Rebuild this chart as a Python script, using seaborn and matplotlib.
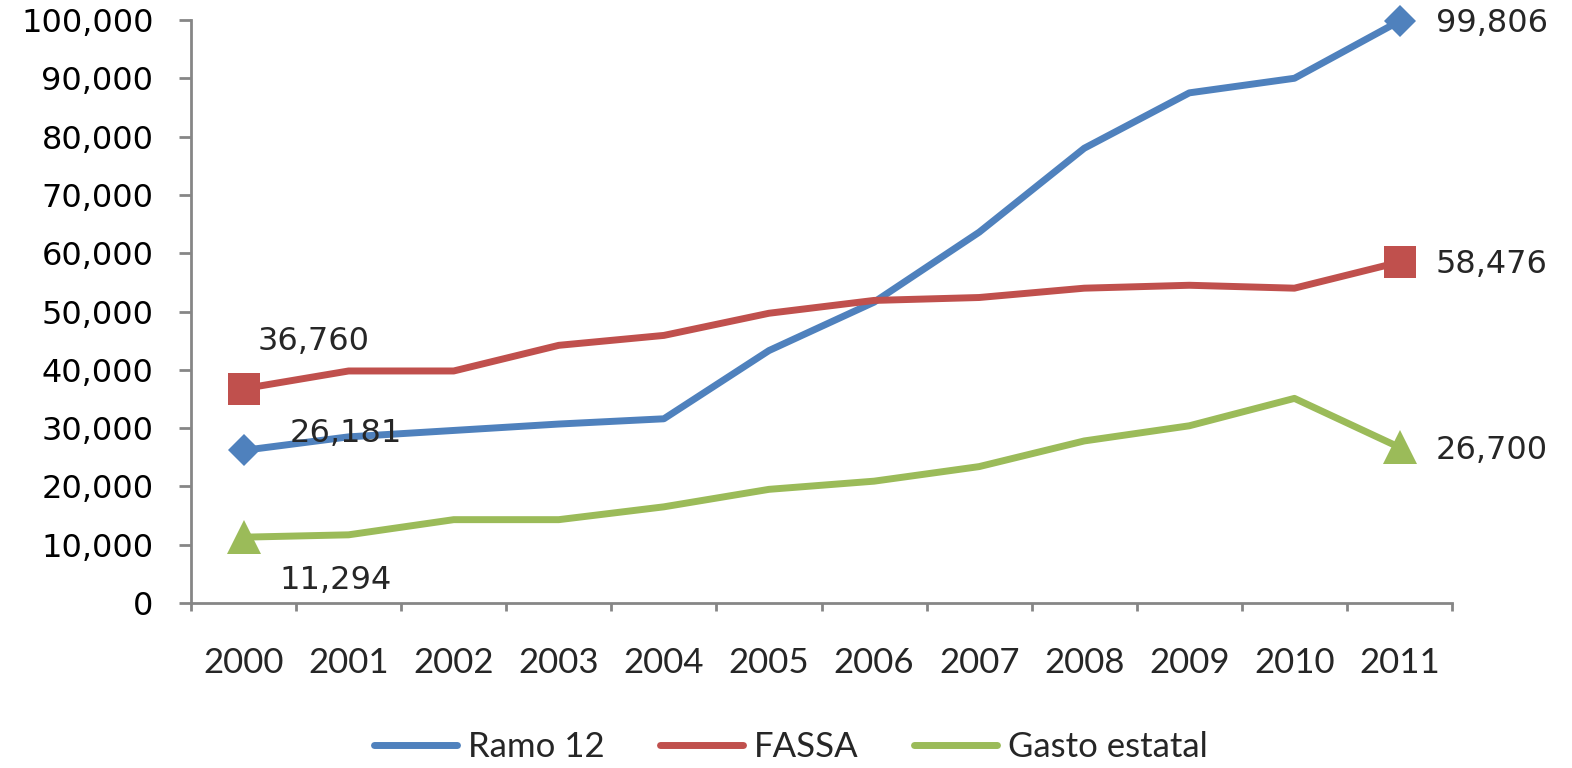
import matplotlib
matplotlib.use("Agg")
import matplotlib.pyplot as plt
import matplotlib.ticker as mticker
import seaborn as sns
import pandas as pd
import numpy as np

years = ["2000", "2001", "2002", "2003", "2004", "2005",
         "2006", "2007", "2008", "2009", "2010", "2011"]
ramo12 = [26181, 28500, 29600, 30700, 31600, 43300,
          51600, 63600, 78000, 87500, 90000, 99806]
fassa = [36760, 39800, 39800, 44200, 45900, 49700,
         51900, 52400, 54000, 54500, 54000, 58476]
gasto = [11294, 11700, 14300, 14300, 16500, 19500,
         20900, 23400, 27800, 30400, 35100, 26700]
series_names = ["Ramo 12", "FASSA", "Gasto estatal"]
colors = ["#4F81BD", "#C0504D", "#9BBB59"]
markers = ["D", "s", "^"]

sns.set_theme(style="white")
plt.rcParams["font.family"] = ["DejaVu Sans"]

rows = []
for name, vals in zip(series_names, [ramo12, fassa, gasto]):
    for i, (y, v) in enumerate(zip(years, vals)):
        rows.append({"idx": i, "year": y, "value": v, "serie": name})
df = pd.DataFrame(rows)

fig = plt.figure(figsize=(15.72, 7.68), dpi=100)
ax = fig.add_axes([0.1215, 0.2148, 0.8022, 0.7592])

sns.lineplot(data=df, x="idx", y="value", hue="serie", hue_order=series_names,
             palette=colors, linewidth=5, legend=False, ax=ax, sort=False)

ends = df[df["idx"].isin([0, len(years) - 1])]
msizes = {"D": 16, "s": 23, "^": 24}
for name, col, mk in zip(series_names, colors, markers):
    sub = ends[ends["serie"] == name]
    ax.plot(sub["idx"], sub["value"], linestyle="none", marker=mk,
            markersize=msizes[mk], color=col, markeredgewidth=0, zorder=5,
            clip_on=False)

def fmt(v):
    return f"{v:,}"

lab_fs = 23
ax.annotate(fmt(ramo12[-1]), (11, ramo12[-1]), xytext=(26, -2), textcoords="offset points",
            ha="left", va="center", fontsize=lab_fs, annotation_clip=False)
ax.annotate(fmt(fassa[-1]), (11, fassa[-1]), xytext=(26, -2), textcoords="offset points",
            ha="left", va="center", fontsize=lab_fs)
ax.annotate(fmt(gasto[-1]), (11, gasto[-1]), xytext=(26, -2), textcoords="offset points",
            ha="left", va="center", fontsize=lab_fs)
ax.annotate(fmt(fassa[0]), (0, fassa[0]), xytext=(10, 34), textcoords="offset points",
            ha="left", va="center", fontsize=lab_fs)
ax.annotate(fmt(ramo12[0]), (0, ramo12[0]), xytext=(33, 12), textcoords="offset points",
            ha="left", va="center", fontsize=lab_fs)
ax.annotate(fmt(gasto[0]), (0, gasto[0]), xytext=(26, -31), textcoords="offset points",
            ha="left", va="center", fontsize=lab_fs)

ax.set_xlim(-0.5, len(years) - 0.5)
ax.set_ylim(0, 100000)
ax.set_xlabel("")
ax.set_ylabel("")

narrow = ["Liberation Sans Narrow", "Lato", "DejaVu Sans"]
ax.yaxis.set_major_locator(mticker.MultipleLocator(10000))
ax.yaxis.set_major_formatter(mticker.FuncFormatter(lambda v, p: f"{int(v):,}"))
ax.set_xticks(range(len(years)))
ax.set_xticklabels(years, family=narrow)
ax.set_xticks(np.arange(-0.5, len(years)), minor=True)

spine_col = "#868686"
for s in ["top", "right"]:
    ax.spines[s].set_visible(False)
for s in ["left", "bottom"]:
    ax.spines[s].set_color(spine_col)
    ax.spines[s].set_linewidth(2)

ax.tick_params(axis="y", which="major", direction="out", length=9, width=2,
               color=spine_col, labelsize=23, pad=18, left=True)
ax.tick_params(axis="x", which="major", length=0, labelsize=25, pad=32)
ax.tick_params(axis="x", which="minor", direction="out", length=6, width=2,
               color=spine_col, bottom=True)
for t in ax.get_yticklabels():
    t.set_color("black")

handles = [plt.Line2D([], [], color=c, linewidth=5) for c in colors]
fig.legend(handles, series_names, loc="center", bbox_to_anchor=(0.503, 0.027),
           ncol=3, frameon=False, handlelength=2.4, columnspacing=1.6,
           handletextpad=0.3,
           prop={"family": narrow, "size": 25})

fig.savefig("out.png", dpi=100, facecolor="white")
